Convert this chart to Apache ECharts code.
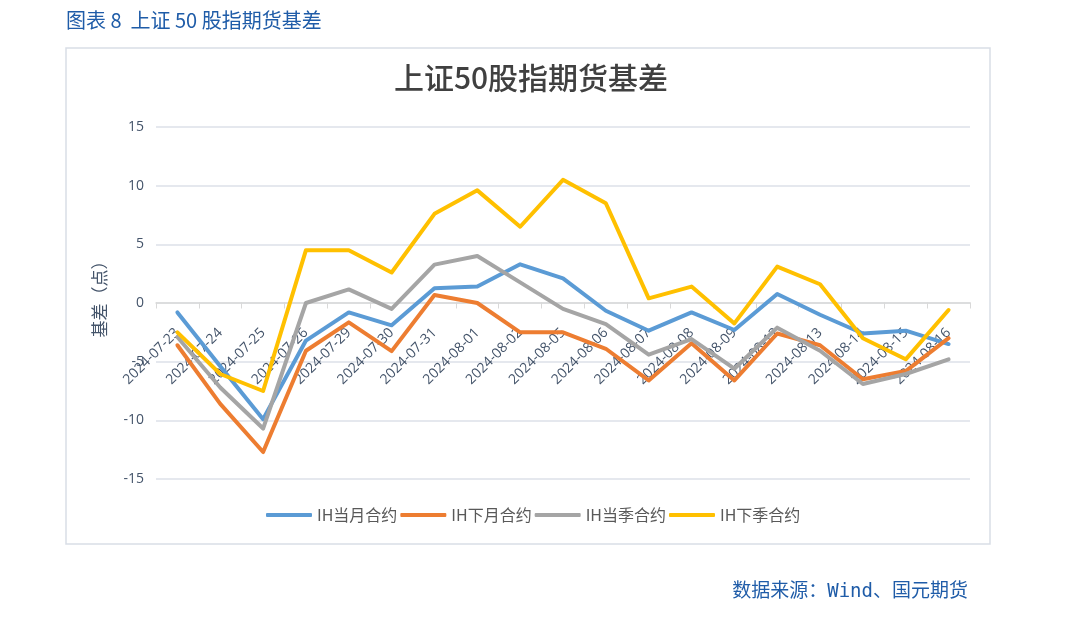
<!DOCTYPE html>
<html>
<head>
<meta charset="utf-8">
<script src="https://cdn.jsdelivr.net/npm/echarts@6/dist/echarts.min.js"></script>
<style>
html,body{margin:0;padding:0;background:#fff;}
#c{width:1080px;height:628px;}
</style>
</head>
<body>
<div id="c"></div>
<script>
const categories = ['2024-07-23','2024-07-24','2024-07-25','2024-07-26','2024-07-29','2024-07-30','2024-07-31','2024-08-01','2024-08-02','2024-08-05','2024-08-06','2024-08-07','2024-08-08','2024-08-09','2024-08-12','2024-08-13','2024-08-14','2024-08-15','2024-08-16'];
const ihCurrentMonth = [-0.8,-5.4,-9.9,-3.2,-0.8,-1.9,1.25,1.4,3.3,2.1,-0.66,-2.36,-0.8,-2.3,0.77,-1.0,-2.6,-2.36,-3.5];
const ihNextMonth = [-3.6,-8.6,-12.7,-4.07,-1.65,-4.1,0.68,0.0,-2.5,-2.5,-3.9,-6.6,-3.44,-6.6,-2.6,-3.6,-6.5,-5.8,-3.0];
const ihCurrentQuarter = [-2.9,-7.2,-10.7,0.0,1.16,-0.5,3.27,4.0,1.76,-0.5,-1.8,-4.4,-3.07,-5.6,-2.1,-4.07,-6.9,-6.05,-4.8];
const ihNextQuarter = [-2.5,-6.05,-7.5,4.5,4.5,2.6,7.6,9.6,6.5,10.5,8.5,0.4,1.4,-1.74,3.1,1.6,-3.0,-4.8,-0.6];
const seriesNames = ['IH当月合约','IH下月合约','IH当季合约','IH下季合约'];
const yTicks = [-15,-10,-5,0,5,10,15];

const colors = ['#5b9bd5','#ed7d31','#a5a5a5','#ffc000'];
const dataSets = [ihCurrentMonth, ihNextMonth, ihCurrentQuarter, ihNextQuarter];

const chart = echarts.init(document.getElementById('c'), null, {renderer:'canvas'});
chart.setOption({
  animation:false,
  backgroundColor:'#fff',
  color: colors,
  graphic:[
    {type:'rect', shape:{x:66,y:48,width:924,height:496}, style:{fill:'none',stroke:'#d9dee6',lineWidth:1.5}, silent:true, z:0},
    {type:'text', left:66, top:10, style:{text:'图表 8  上证 50 股指期货基差', fill:'#1f5ca8', font:'20px "Noto Sans CJK SC", sans-serif'}},
    {type:'text', right:112, top:583, style:{text:'数据来源：Wind、国元期货', fill:'#1f5ca8', font:'19px "DejaVu Sans Mono", "Noto Sans CJK SC", monospace'}},
    {type:'text', x:100, y:295, rotation:Math.PI/2, style:{text:'基差（点）', fill:'#44546a', font:'17px "Noto Sans CJK SC", sans-serif', align:'center', verticalAlign:'middle'}}
  ],
  title:{
    text:'上证50股指期货基差', left:526, top:58, textAlign:'center',
    textStyle:{color:'#404040', fontSize:30, fontWeight:500, fontFamily:'"Noto Sans CJK SC", sans-serif'}
  },
  legend:{
    bottom:100, left:261, itemWidth:46, itemHeight:4, itemGap:3,
    icon:'roundRect',
    textStyle:{color:'#595959', fontSize:16, fontFamily:'"Noto Sans CJK SC", sans-serif'},
    data: seriesNames
  },
  grid:{left:156, right:110, top:127, bottom:149, containLabel:false},
  xAxis:{
    type:'category', data:categories, boundaryGap:true,
    position:'bottom', offset:-176.5,
    axisLine:{onZero:false, lineStyle:{color:'#d9d9d9', width:1.5}},
    axisTick:{show:true, length:6, lineStyle:{color:'#d9d9d9'}, alignWithLabel:false},
    axisLabel:{rotate:45, interval:0, color:'#44546a', fontSize:14, margin:28, fontFamily:'"Open Sans", sans-serif'}
  },
  yAxis:{
    type:'value', min:-15, max:15, interval:5,
    axisLine:{show:false}, axisTick:{show:false},
    splitLine:{lineStyle:{color:'#dde1e8', width:1.5}},
    axisLabel:{color:'#44546a', fontSize:14, margin:12, fontFamily:'"Open Sans", sans-serif',
      formatter: v => yTicks.includes(v) ? String(v) : ''}
  },
  series: seriesNames.map((n,i)=>({
    name:n, type:'line', data:dataSets[i], symbol:'none', smooth:false,
    lineStyle:{width:4, color:colors[i], cap:'round', join:'round'},
    itemStyle:{color:colors[i]}
  }))
});
</script>
</body>
</html>
